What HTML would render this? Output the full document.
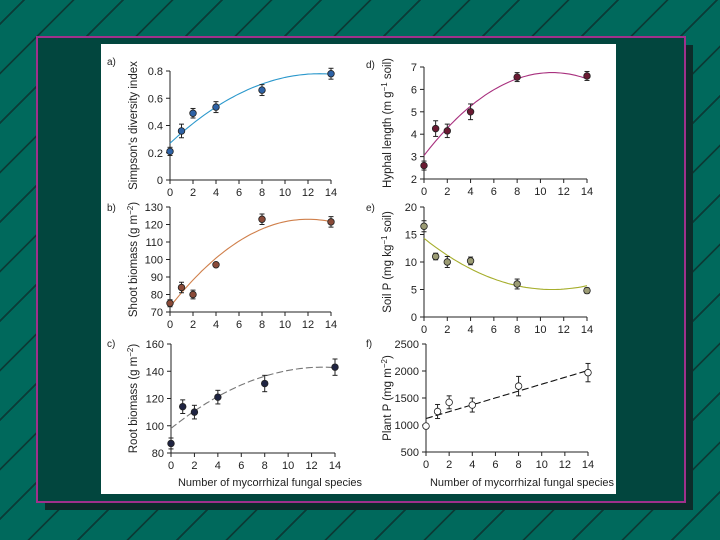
<!DOCTYPE html>
<html><head><meta charset="utf-8">
<style>
html,body{margin:0;padding:0;}
body{width:720px;height:540px;overflow:hidden;position:relative;
background:#00695c repeating-linear-gradient(-45deg,#00695c 0px,#00695c 33px,#0b3b36 33px,#0b3b36 35px);
font-family:"Liberation Sans",sans-serif;}
#shadow{position:absolute;left:45px;top:45px;width:648px;height:465px;background:#0c2c2a;}
#frame{position:absolute;left:36px;top:36px;width:646px;height:463px;border:2px solid #a0308c;background:#02463e;}
#panel{position:absolute;left:101px;top:44px;width:515px;height:450px;background:#fff;}
svg{position:absolute;left:0;top:0;}
</style></head>
<body>
<div id="shadow"></div>
<div id="frame"></div>
<div id="panel"></div>
<svg id="chart" width="720" height="540"></svg>
<script>
const xCats=[0,1,2,4,8,14];
const xTicks=[0,2,4,6,8,10,12,14];
const aVals=[0.21,0.36,0.49,0.535,0.66,0.78];
const aErr=[0.03,0.05,0.035,0.04,0.04,0.04];
const dVals=[2.6,4.25,4.15,5.0,6.55,6.6];
const dErr=[0.2,0.35,0.3,0.35,0.2,0.2];
const bVals=[75,84,80,97,123,121.5];
const bErr=[2,3,2.5,1,3,3];
const eVals=[16.5,11,10,10.2,6,4.8];
const eErr=[1,0.6,1,0.7,0.9,0.5];
const cVals=[87,114,110,121,131,143];
const cErr=[4,5,5,5,6,6];
const fVals=[980,1250,1420,1370,1720,1970];
const fErr=[30,130,120,130,180,170];
const aTicks=[0,0.2,0.4,0.6,0.8];
const dTicks=[2,3,4,5,6,7];
const bTicks=[70,80,90,100,110,120,130];
const eTicks=[0,5,10,15,20];
const cTicks=[80,100,120,140,160];
const fTicks=[500,1000,1500,2000,2500];
// fitted curves (vertex, peak, curvature)
const aFit=[13,0.78,-0.51/169];
const dFit=[11,6.75,-3.7/121];
const bFit=[12,123,-50/144];
const eFit=[11,5,9.3/121];
const cFit=[13,143,-45/169];
const fFit=[1120,2010];

const svg=document.getElementById('chart');
const NS='http://www.w3.org/2000/svg';
function mk(t,at,name,par){const e=document.createElementNS(NS,t);for(const k in at)e.setAttribute(k,at[k]);


(par||svg).appendChild(e);return e;}

function panel(o){
  const g=mk('g',{},o.id+'-panel');
  const sx=v=>o.x0+(o.x1-o.x0)*v/14;
  const sy=v=>o.yb+(o.yt-o.yb)*(v-o.ymin)/(o.ymax-o.ymin);
  mk('line',{x1:o.x0,y1:o.yt,x2:o.x0,y2:o.yb,stroke:'#222','stroke-width':1},o.id+'-y-axis',g);
  mk('line',{x1:o.x0,y1:o.yb,x2:o.x1,y2:o.yb,stroke:'#222','stroke-width':1},o.id+'-x-axis',g);
  o.yticks.forEach(t=>{const y=sy(t);
    mk('line',{x1:o.x0-4,y1:y,x2:o.x0,y2:y,stroke:'#222'},o.id+'-y-tick',g);
    const tx=mk('text',{x:o.x0-7,y:y+4,'font-size':11,'text-anchor':'end',fill:'#222'},o.id+'-y-tick-label',g);tx.textContent=t;});
  xTicks.forEach(t=>{const x=sx(t);
    mk('line',{x1:x,y1:o.yb,x2:x,y2:o.yb+4,stroke:'#222'},o.id+'-x-tick',g);
    const tx=mk('text',{x:x,y:o.yb+16,'font-size':11,'text-anchor':'middle',fill:'#222'},o.id+'-x-tick-label',g);tx.textContent=t;});
  // curve
  let d='';
  for(let i=0;i<=56;i++){const v=i/4;const yv=o.fit(v);d+=(i?'L':'M')+sx(v).toFixed(1)+','+sy(yv).toFixed(1);}
  mk('path',{d:d,fill:'none',stroke:o.lc,'stroke-width':1.1,'stroke-dasharray':o.dash||'none'},o.id+'-fit-curve',g);
  xCats.forEach((c,i)=>{const x=sx(c),y=sy(o.vals[i]),e1=sy(o.vals[i]+o.err[i]),e2=sy(o.vals[i]-o.err[i]);
    mk('line',{x1:x,y1:e1,x2:x,y2:e2,stroke:'#222'},o.id+'-error-bar',g);
    mk('line',{x1:x-2.5,y1:e1,x2:x+2.5,y2:e1,stroke:'#222'},o.id+'-error-cap',g);
    mk('line',{x1:x-2.5,y1:e2,x2:x+2.5,y2:e2,stroke:'#222'},o.id+'-error-cap',g);
    mk('circle',{cx:x,cy:y,r:3.3,fill:o.pc,stroke:'#222','stroke-width':0.8},o.id+'-point',g);});
  const lab=mk('text',{x:o.lx,y:o.ly,'font-size':10,fill:'#222'},o.id+'-panel-label',g);lab.textContent=o.id+')';
  const cy=(o.yt+o.yb)/2;
  const ti=mk('text',{x:o.tx,y:cy,'font-size':11.5,'text-anchor':'middle',fill:'#222',transform:'rotate(-90 '+o.tx+' '+cy+')'},o.id+'-y-axis-title',g);
  ti.innerHTML=o.title;
}
const q=f=>v=>f[1]+f[2]*(v-f[0])*(v-f[0]);
panel({id:'a',x0:170,x1:331,yt:71,yb:180,ymin:0,ymax:0.8,yticks:aTicks,vals:aVals,err:aErr,fit:q(aFit),lc:'#2b98cc',pc:'#2d62a6',lx:107,ly:65,tx:137,title:"Simpson's diversity index"});
panel({id:'d',x0:424,x1:587,yt:67,yb:179,ymin:2,ymax:7,yticks:dTicks,vals:dVals,err:dErr,fit:q(dFit),lc:'#a8307e',pc:'#6a1a32',lx:366,ly:68,tx:391,title:'Hyphal length (m g<tspan baseline-shift="super" font-size="8">−1</tspan> soil)'});
panel({id:'b',x0:170,x1:331,yt:207,yb:312,ymin:70,ymax:130,yticks:bTicks,vals:bVals,err:bErr,fit:q(bFit),lc:'#d0804c',pc:'#8a4a38',lx:107,ly:211,tx:137,title:'Shoot biomass (g m<tspan baseline-shift="super" font-size="8">−2</tspan>)'});
panel({id:'e',x0:424,x1:587,yt:207,yb:317,ymin:0,ymax:20,yticks:eTicks,vals:eVals,err:eErr,fit:q(eFit),lc:'#a6ae2c',pc:'#9c9c74',lx:366,ly:211,tx:391,title:'Soil P (mg kg<tspan baseline-shift="super" font-size="8">−1</tspan> soil)'});
panel({id:'c',x0:171,x1:335,yt:344,yb:453,ymin:80,ymax:160,yticks:cTicks,vals:cVals,err:cErr,fit:q(cFit),lc:'#777',dash:'7 3',pc:'#1f2442',lx:107,ly:347,tx:137,title:'Root biomass (g m<tspan baseline-shift="super" font-size="8">−2</tspan>)'});
panel({id:'f',x0:426,x1:588,yt:344,yb:452,ymin:500,ymax:2500,yticks:fTicks,vals:fVals,err:fErr,fit:v=>fFit[0]+(fFit[1]-fFit[0])*v/14,lc:'#111',dash:'7 3',pc:'#fff',lx:366,ly:347,tx:391,title:'Plant P (mg m<tspan baseline-shift="super" font-size="8">−2</tspan>)'});
[[270,'left'],[522,'right']].forEach(([x,s])=>{const t=mk('text',{x:x,y:486,'font-size':11,'text-anchor':'middle',fill:'#222'},s+'-x-axis-title');t.textContent='Number of mycorrhizal fungal species';});
</script>
</body></html>
